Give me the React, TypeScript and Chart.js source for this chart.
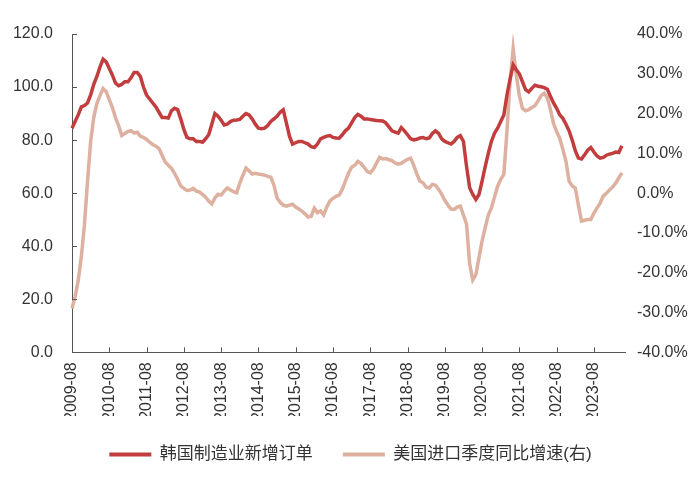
import React, { useEffect, useRef } from "react";
import { Chart, registerables } from "chart.js";

Chart.register(...registerables);

// Monthly categories 2009-08 .. 2024-06
const startYear = 2009;
const startMonth = 8;
const monthCount = 179;
const months: string[] = [];
for (let i = 0; i < monthCount; i++) {
  const t = startMonth - 1 + i;
  const y = startYear + Math.floor(t / 12);
  const m = (t % 12) + 1;
  months.push(`${y}-${m < 10 ? "0" + m : m}`);
}

const koreaOrders: number[] = [
  84.5, 87, 89.5, 92.5, 93, 94, 97, 101, 104, 107.5, 110.5, 109.5,
  107, 104.5, 101.5, 100.5, 101, 102, 102, 103.5, 105.5, 105.5, 104, 100,
  97, 95.5, 94, 92.5, 90.5, 88.5, 88.5, 88.3, 91, 92, 91.5, 88,
  84, 81, 80.5, 80.5, 79.5, 79.5, 79.2, 80.5, 82, 86, 90, 89,
  87.5, 85.7, 86, 87, 87.5, 87.6, 87.8, 89, 90, 89.5, 88, 86,
  84.5, 84.3, 84.5, 85.5, 87, 88, 89, 90.5, 91.4, 86.5, 81.5, 78.5,
  79, 79.5, 79.5, 79, 78.5, 77.5, 77.2, 78.5, 80.5, 81, 81.5, 81.7,
  81, 80.8, 80.7, 82, 83.5, 84.5, 86.5, 88.5, 89.7, 89, 88, 88,
  87.8, 87.6, 87.4, 87.3, 87.2, 86.5, 85, 83.5, 83, 82.6, 84.7, 83.5,
  82, 80.5, 80.1, 80.3, 80.8, 81, 80.5, 80.8, 82.5, 83.5, 82.5, 80.5,
  79.5, 79, 78.5, 79.5, 81, 81.7, 79.5, 70, 62, 59.5, 57.6, 59.5,
  64.5, 70, 75, 79.5, 82.6, 84.5, 87, 89.5, 97, 103, 108.3, 106.5,
  105, 102, 99, 98.2, 99.5, 100.7, 100.3, 100.1, 99.8, 99.2, 96.5, 94,
  92, 89.5, 88.2, 86, 83.5, 80, 76, 73.2, 72.9, 74.5, 76.2, 77.2,
  75.5, 74, 73.2, 73.5, 74.3, 74.7, 75, 75.5, 75.3, 77.9
];

const usImportsYoY: number[] = [
  -29, -26, -22, -16, -8, 3, 13, 19, 22.5, 24.5, 26.3, 25.5,
  23.5, 21.5, 19, 17, 14.5, 15, 15.5, 15.7, 15.1, 15.3, 14.3, 14,
  13.5, 12.8, 12.2, 11.8, 11.2, 9.5, 7.8, 7, 6.3, 5, 3.5, 1.8,
  1.2, 0.7, 0.8, 1.2, 0.5, 0.3, -0.3, -1, -2, -2.7, -1.2, -0.3,
  -0.5, 0.5, 1.3, 0.8, 0.4, 0.1, 2.5, 4.5, 6.3, 5.6, 4.8, 5,
  4.8, 4.7, 4.5, 4.2, 4, 2, -1.2, -2.3, -3, -3.25, -3, -2.8,
  -3.5, -4, -4.5, -5.2, -6, -5.8, -3.8, -4.9, -4.5, -5.5, -3.5, -2,
  -1.3, -0.8, -0.5, 1, 3, 5, 6.5, 7, 8, 7.5, 6.5, 5.5,
  5.1, 6, 7.5, 9, 8.6, 8.7, 8.4, 8.2, 7.6, 7.3, 7.5, 8,
  8.5, 8.8, 7, 4.8, 3, 2.6, 1.5, 1.3, 2.2, 2, 1, -0.3,
  -1.8, -3, -4, -4.1, -3.5, -3.25, -5.5, -7.8, -17.8, -21.8, -20.5, -16.2,
  -12, -8.7, -5.5, -3.7, -1, 1.75, 3.5, 4.7, 15.5, 28, 36.3, 29.7,
  24.5, 21.3, 20.7, 21, 21.5, 22, 23.2, 24.5, 25.1, 24, 21, 17.5,
  15.5, 13.8, 11, 8, 3, 1.8, 1.3, -3, -7, -6.8, -6.6, -6.6,
  -5, -3.7, -2.5, -0.75, 0, 0.8, 1.5, 2.5, 3.8, 5.1
];

const seriesNames = ["韩国制造业新增订单", "美国进口季度同比增速(右)"];
const redColor = "#C23D3D";
const tanColor = "#DDB09F";
const textColor = "#333333";
const axisColor = "#555555";
const font = "'Liberation Sans', Arial, 'Noto Sans CJK SC', sans-serif";

const innerTicks = {
  id: "innerTicks",
  afterDraw(chart: any) {
    const { ctx, scales } = chart;
    const x = scales.x;
    const y = scales.y;
    ctx.save();
    ctx.strokeStyle = axisColor;
    ctx.lineWidth = 1;
    ctx.beginPath();
    x.ticks.forEach((_t: any, i: number) => {
      const px = Math.round(x.getPixelForTick(i)) + 0.5;
      ctx.moveTo(px, x.top);
      ctx.lineTo(px, x.top - 5);
    });
    y.ticks.forEach((_t: any, i: number) => {
      const py = Math.round(y.getPixelForTick(i)) + 0.5;
      ctx.moveTo(y.right, py);
      ctx.lineTo(y.right + 5, py);
    });
    ctx.stroke();
    ctx.restore();
  },
};

export default function App() {
  const ref = useRef<HTMLCanvasElement | null>(null);
  useEffect(() => {
    if (!ref.current) return;
    const chart = new Chart(ref.current, {
      type: "line",
      data: {
        labels: months,
        datasets: [
          {
            label: seriesNames[0],
            data: koreaOrders,
            borderColor: redColor,
            backgroundColor: redColor,
            borderWidth: 3.5,
            pointRadius: 0,
            yAxisID: "y",
          },
          {
            label: seriesNames[1],
            data: usImportsYoY,
            borderColor: tanColor,
            backgroundColor: tanColor,
            borderWidth: 3.5,
            pointRadius: 0,
            yAxisID: "y1",
          },
        ],
      },
      options: {
        responsive: false,
        animation: false,
        layout: { padding: { left: 13, right: 12, top: 34, bottom: 11 } },
        plugins: {
          tooltip: { enabled: false },
          legend: {
            position: "bottom",
            labels: {
              color: textColor,
              font: { family: font, size: 17 },
              boxWidth: 42,
              boxHeight: 4,
              padding: 30,
              generateLabels: (c: any) => {
                const items = Chart.defaults.plugins.legend.labels.generateLabels(c);
                return items.map((it: any) => ({ ...it, lineWidth: 0 }));
              },
            },
          },
        },
        scales: {
          x: {
            type: "category",
            offset: false,
            grid: { display: false, drawTicks: false },
            border: { display: true, color: axisColor, width: 1 },
            afterBuildTicks: (scale: any) => {
              scale.ticks = scale.ticks.filter((t: any) => t.value % 12 === 0);
            },
            afterFit: (scale: any) => {
              scale.height = scale.height - 15;
            },
            ticks: {
              autoSkip: false,
              minRotation: 90,
              maxRotation: 90,
              padding: 10,
              color: textColor,
              font: { family: font, size: 16 },
            },
          },
          y: {
            position: "left",
            min: 0,
            max: 120,
            grid: { display: false, drawTicks: false },
            border: { display: true, color: axisColor, width: 1 },
            afterFit: (scale: any) => {
              scale.width = 59;
            },
            ticks: {
              stepSize: 20,
              padding: 19,
              color: textColor,
              font: { family: font, size: 16 },
              callback: (v: any) => Number(v).toFixed(1),
            },
          },
          y1: {
            position: "right",
            min: -40,
            max: 40,
            grid: { display: false, drawTicks: false },
            border: { display: false },
            afterFit: (scale: any) => {
              scale.width = 63;
            },
            ticks: {
              stepSize: 10,
              padding: 12,
              color: textColor,
              font: { family: font, size: 16 },
              callback: (v: any) => Number(v).toFixed(1) + "%",
            },
          },
        },
      },
      plugins: [innerTicks],
    });
    return () => chart.destroy();
  }, []);
  return (
    <div style={{ position: "absolute", left: 0, top: 0, width: 700, height: 484, background: "#fff" }}>
      <canvas ref={ref} width={700} height={484} />
    </div>
  );
}
